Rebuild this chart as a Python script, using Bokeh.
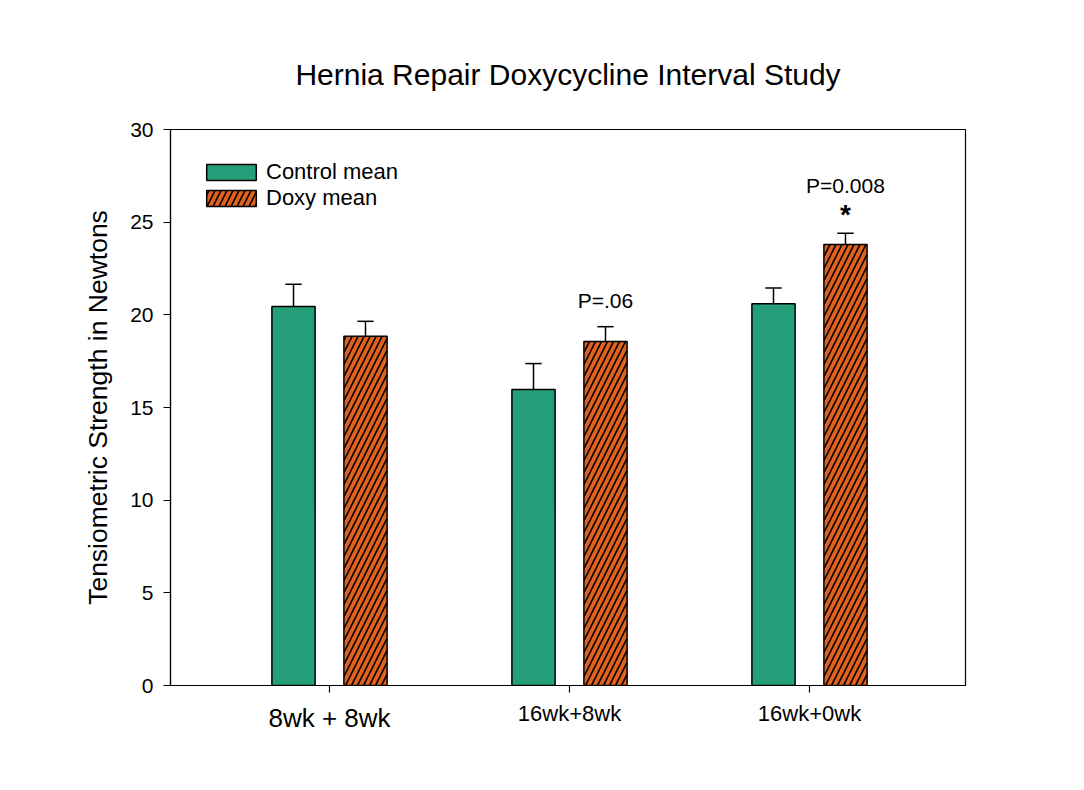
from bokeh.plotting import figure
from bokeh.models import Label, FixedTicker, Range1d, Legend, LegendItem, LinearAxis
from bokeh.embed import file_html
from bokeh.resources import INLINE

categories = ["8wk + 8wk", "16wk+8wk", "16wk+0wk"]
control_mean = [20.45, 15.97, 20.6]
control_err = [1.2, 1.4, 0.85]
doxy_mean = [18.85, 18.56, 23.8]
doxy_err = [0.8, 0.8, 0.6]
annotations = [("P=.06", 1.15, 20.13), ("P=0.008", 2.15, 26.38)]
star = ("*", 2.15, 24.57)
y_ticks = [0, 5, 10, 15, 20, 25, 30]

GREEN = "#279E7A"
ORANGE = "#E0621E"
FONT = "Liberation Sans"

W, H = 1068, 774
p = figure(width=W, height=H, output_backend="svg", toolbar_location=None,
           x_range=Range1d(-0.6625, 2.65), y_range=Range1d(0, 30),
           min_border_left=170, min_border_right=103, min_border_top=129, min_border_bottom=89)
p.title.text = "Hernia Repair Doxycycline Interval Study"
p.title.align = "center"
p.title.text_font = FONT
p.title.text_font_size = "30px"
p.title.text_font_style = "normal"
p.title.text_color = "black"
p.title.standoff = 78
p.grid.visible = False
p.outline_line_color = "black"
p.outline_line_width = 1.2
p.background_fill_color = "white"
p.border_fill_color = "white"

off = 0.15
bw = 0.18
xs = list(range(len(categories)))
cx = [x - off for x in xs]
dx = [x + off for x in xs]

r1 = p.vbar(x=cx, top=control_mean, width=bw, fill_color=GREEN, line_color="black", line_width=1.5)
r2 = p.vbar(x=dx, top=doxy_mean, width=bw, fill_color=ORANGE, line_color="black", line_width=1.5,
            hatch_pattern="right_diagonal_line", hatch_color="black", hatch_scale=12, hatch_weight=1.6)

cap = 0.034
for xpos, m, e in [(cx, control_mean, control_err), (dx, doxy_mean, doxy_err)]:
    tops = [a + b for a, b in zip(m, e)]
    p.segment(x0=xpos, y0=m, x1=xpos, y1=tops, line_color="black", line_width=1.5)
    p.segment(x0=[x - cap for x in xpos], y0=tops, x1=[x + cap for x in xpos], y1=tops,
              line_color="black", line_width=1.5)

# y axis
p.yaxis.ticker = FixedTicker(ticks=y_ticks)
p.yaxis.minor_tick_line_color = None
p.yaxis.major_tick_out = 7
p.yaxis.major_tick_in = 0
p.yaxis.major_label_text_font = FONT
p.yaxis.major_label_text_font_size = "21px"
p.yaxis.major_label_text_color = "black"
p.yaxis.major_label_standoff = 10
p.yaxis.axis_label = "Tensiometric Strength in Newtons"
p.yaxis.axis_label_text_font = FONT
p.yaxis.axis_label_text_font_size = "26.5px"
p.yaxis.axis_label_text_font_style = "normal"
p.yaxis.axis_label_text_color = "black"
p.yaxis.axis_label_standoff = 14
p.yaxis.axis_line_width = 1.2
p.yaxis.major_tick_line_width = 1.2

# x axis: small labels (first category label drawn by a second axis with larger font)
p.xaxis.ticker = FixedTicker(ticks=xs)
p.xaxis.major_label_overrides = {0: " ", 1: categories[1], 2: categories[2]}
p.xaxis.minor_tick_line_color = None
p.xaxis.major_tick_out = 7
p.xaxis.major_tick_in = 0
p.xaxis.major_label_text_font = FONT
p.xaxis.major_label_text_font_size = "22px"
p.xaxis.major_label_text_color = "black"
p.xaxis.major_label_standoff = 8
p.xaxis.axis_line_width = 1.2
p.xaxis.major_tick_line_width = 1.2

ax2 = LinearAxis(ticker=FixedTicker(ticks=[xs[0]]), major_label_overrides={0: categories[0]},
                 axis_line_color=None, major_tick_line_color=None, minor_tick_line_color=None,
                 major_label_text_font=FONT, major_label_text_font_size="26px",
                 major_label_text_color="black", major_label_standoff=-32)
p.add_layout(ax2, "below")

for t, x, y in annotations:
    p.add_layout(Label(x=x, y=y, text=t, text_font=FONT, text_font_size="21px",
                       text_align="center", text_baseline="bottom", text_color="black"))
p.add_layout(Label(x=star[1], y=star[2], text=star[0], text_font=FONT, text_font_size="28px",
                   text_font_style="bold", text_align="center", text_baseline="bottom",
                   text_color="black"))

legend = Legend(items=[LegendItem(label="Control mean", renderers=[r1]),
                       LegendItem(label="Doxy mean", renderers=[r2])],
                location="top_left", border_line_color=None, background_fill_alpha=0,
                label_text_font=FONT, label_text_font_size="22px", label_text_color="black",
                glyph_width=62, glyph_height=20, spacing=0, padding=0,
                margin=30, label_standoff=4, label_height=20)
p.add_layout(legend)

open("out.html", "w").write(file_html(p, INLINE))
